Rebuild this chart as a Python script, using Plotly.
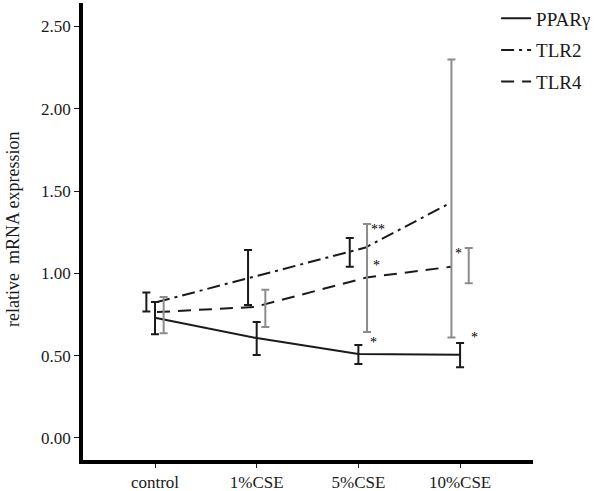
import plotly.graph_objects as go

categories = ["control", "1%CSE", "5%CSE", "10%CSE"]
cat_pos = [0, 1, 2, 3]

# means (line points)
ppar_mean = [0.73, 0.607, 0.51, 0.505]
tlr2_mean = [0.826, 0.97, 1.157, 1.43]
tlr4_mean = [0.765, 0.796, 0.975, 1.04]

# error bar ranges (low, high) per category
ppar_low = [0.63, 0.504, 0.45, 0.43]
ppar_high = [0.826, 0.705, 0.565, 0.577]
tlr2_low = [0.768, 0.808, 1.04, 0.61]
tlr2_high = [0.884, 1.142, 1.215, 2.30]
tlr4_low = [0.636, 0.674, 0.644, 0.94]
tlr4_high = [0.857, 0.90, 1.30, 1.154]

# significance marks
sig_text = ["**", "*", "*", "*", "*"]
sig_cat = [2, 2, 2, 3, 3]
sig_y = [1.265, 1.05, 0.58, 1.12, 0.61]

y_title = "relative  mRNA expression"

# layout offsets (style, in category units)
tlr2_line_dx = [0.02, -0.08, 0.07, -0.09]
tlr4_line_dx = [0.02, -0.02, 0.08, -0.09]
bar_dx = {"tlr2": -0.085, "ppar": 0.0, "tlr4": 0.085}
sig_dx = [0.19, 0.18, 0.15, -0.02, 0.14]

BLACK = "#1a1a1a"
GRAY = "#8c8c8c"
FONT = "Liberation Serif"

fig = go.Figure()

def xs(dx):
    return [c + d for c, d in zip(cat_pos, dx)]

# lines
fig.add_trace(go.Scatter(x=cat_pos, y=ppar_mean, mode="lines", name="PPARγ",
                         line=dict(color=BLACK, width=2), legendgroup="a"))
fig.add_trace(go.Scatter(x=xs(tlr2_line_dx), y=tlr2_mean, mode="lines", name="TLR2",
                         line=dict(color=BLACK, width=2, dash="13px,5px,3px,5px"), legendgroup="b"))
fig.add_trace(go.Scatter(x=xs(tlr4_line_dx), y=tlr4_mean, mode="lines", name="TLR4",
                         line=dict(color=BLACK, width=2, dash="13px,8px"), legendgroup="c"))

def add_bars(low, high, dx, color, idx):
    x = [cat_pos[i] + dx for i in idx]
    mid = [(low[i] + high[i]) / 2 for i in idx]
    plus = [high[i] - m for i, m in zip(idx, mid)]
    minus = [m - low[i] for i, m in zip(idx, mid)]
    fig.add_trace(go.Scatter(x=x, y=mid, mode="markers", showlegend=False,
                             marker=dict(size=1, opacity=0), hoverinfo="skip",
                             error_y=dict(type="data", array=plus, arrayminus=minus,
                                          symmetric=False, color=color, thickness=2, width=4)))

add_bars(tlr2_low, tlr2_high, bar_dx["tlr2"], BLACK, [0, 1, 2])
add_bars(tlr2_low, tlr2_high, bar_dx["tlr2"], GRAY, [3])
add_bars(ppar_low, ppar_high, bar_dx["ppar"], BLACK, [0, 1, 2, 3])
add_bars(tlr4_low, tlr4_high, bar_dx["tlr4"], GRAY, [0, 1, 2, 3])

for t, c, y, d in zip(sig_text, sig_cat, sig_y, sig_dx):
    fig.add_annotation(x=c + d, y=y, text=t, showarrow=False,
                       font=dict(family=FONT, size=14, color="black"))

# y-axis title
fig.add_annotation(xref="paper", yref="paper", x=-0.156, y=0.505, text=y_title,
                   textangle=-90, showarrow=False, xanchor="center", yanchor="middle",
                   font=dict(family=FONT, size=18, color=BLACK))

fig.update_layout(
    width=600, height=491,
    margin=dict(l=83, r=67, t=3, b=31, autoexpand=False),
    plot_bgcolor="white", paper_bgcolor="white",
    font=dict(family=FONT, color=BLACK),
    legend=dict(x=0.918, y=1.008, xanchor="left", yanchor="top",
                font=dict(family=FONT, size=19, color=BLACK),
                tracegroupgap=4, bgcolor="rgba(0,0,0,0)", itemwidth=30),
    xaxis=dict(range=[-0.708, 3.717], tickvals=cat_pos, ticktext=categories,
               showline=True, linewidth=3.5, linecolor="black", mirror=False,
               ticks="outside", ticklen=4, tickwidth=1.2, tickcolor=BLACK,
               showgrid=False, zeroline=False, automargin=False,
               tickfont=dict(family=FONT, size=17, color=BLACK)),
    yaxis=dict(range=[-0.134, 2.643], tickvals=[0, 0.5, 1.0, 1.5, 2.0, 2.5],
               ticktext=["0.00", "0.50", "1.00", "1.50", "2.00", "2.50"],
               showline=True, linewidth=3.5, linecolor="black",
               ticks="outside", ticklen=5, tickwidth=1.2, tickcolor=BLACK,
               showgrid=False, zeroline=False, automargin=False,
               tickfont=dict(family=FONT, size=17, color=BLACK)),
)

fig.write_html("out.html", config={"displayModeBar": False},
               post_script="document.body.style.margin='0';")
